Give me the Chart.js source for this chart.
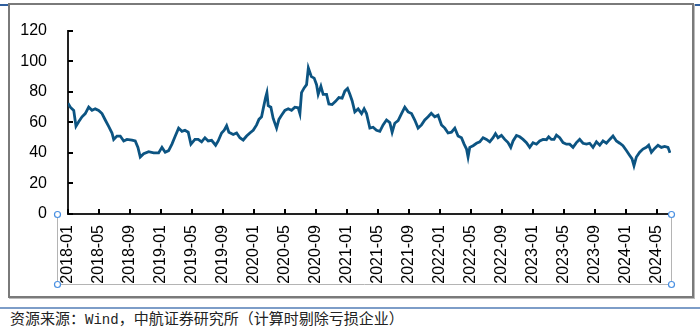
<!DOCTYPE html>
<html>
<head>
<meta charset="utf-8">
<script src="https://cdn.jsdelivr.net/npm/chart.js@4.4.0/dist/chart.umd.min.js"></script>
<style>
  html, body { margin: 0; padding: 0; background: #fff; }
  body { width: 700px; height: 332px; position: relative; overflow: hidden; }
  .topRule { position: absolute; left: 0; top: 4px; width: 700px; height: 2px; background: #2f5f9e; }
  .frame { position: absolute; left: 8px; top: 3px; width: 682px; height: 291px; border: 2px solid #7a7a7a; background: #fff; box-shadow: 1px 1px 0 #bbb; }
  .wrap { position: absolute; left: 0; top: 0; width: 700px; height: 300px; }
  .bottomRule { position: absolute; left: 0; top: 307px; width: 700px; height: 2px; background: #7d9dc8; }
  .source { position: absolute; left: 10px; top: 309px; font: 15px "Noto Sans CJK SC", sans-serif; line-height: 18px; color: #222; white-space: nowrap; }
  .source .mono { font-family: "Liberation Mono", monospace; font-size: 14px; }
</style>
</head>
<body>
<div class="topRule"></div>
<div class="frame"></div>
<div class="wrap"><canvas id="peChart" width="700" height="300"></canvas></div>
<div class="bottomRule"></div>
<div class="source">资源来源：<span class="mono">Wind</span>，中航证券研究所（计算时剔除亏损企业）</div>

<script>
// months since 2018-01 (fractional)
const months = [
  0, 0.30, 0.74, 1.03, 1.38, 1.81, 2.23, 2.67, 3.10, 3.52, 3.96, 4.39, 4.81, 5.25, 5.68, 5.90,
  6.32, 6.75, 7.19, 7.61, 8.26, 8.68, 9.03, 9.33, 9.77, 10.41, 11.06, 11.70, 12.13, 12.55, 12.99,
  13.42, 13.85, 14.28, 14.71, 15.10, 15.52, 15.87, 16.39, 16.81, 17.25, 17.68, 18.10, 18.54, 19.06,
  19.39, 19.83, 20.17, 20.48, 20.77, 21.33, 21.77, 22.19, 22.62, 23.06, 23.48, 23.91, 24.35, 24.65,
  24.99, 25.20, 25.51, 25.68, 25.85, 26.19, 26.49, 26.93, 27.23, 27.57, 28.00, 28.43, 28.86, 29.29,
  29.72, 29.94, 30.15, 30.49, 30.80, 31.03, 31.42, 31.78, 32.09, 32.30, 32.65, 32.94, 33.38, 33.68,
  34.10, 34.54, 34.97, 35.39, 35.74, 36.09, 36.39, 36.68, 37.03, 37.46, 37.90, 38.23, 38.54, 38.97,
  39.39, 39.83, 40.26, 40.68, 41.12, 41.55, 41.85, 42.19, 42.62, 43.06, 43.48, 43.91, 44.35, 44.77,
  45.20, 45.64, 46.06, 46.49, 46.90, 47.35, 47.78, 48.22, 48.65, 49.07, 49.51, 49.94, 50.36, 50.80,
  51.14, 51.45, 51.65, 51.87, 52.30, 52.74, 53.16, 53.59, 54.03, 54.45, 54.88, 55.19, 55.52, 55.96,
  56.39, 56.81, 57.16, 57.46, 57.90, 58.32, 58.75, 59.19, 59.61, 60.04, 60.48, 60.90, 61.33, 61.77,
  62.06, 62.41, 62.75, 63.06, 63.48, 63.91, 64.35, 64.77, 65.20, 65.64, 66.06, 66.49, 66.93, 67.35,
  67.78, 68.22, 68.65, 69.07, 69.51, 69.94, 70.36, 70.80, 71.23, 71.65, 72.09, 72.52, 72.81, 73.07,
  73.38, 73.81, 74.23, 74.67, 74.97, 75.32, 75.74, 76.17, 76.61, 77.03, 77.46, 77.72
];

// PE values
const pe = [
  72.5, 69.9, 67.8, 57.5, 60.4, 63.6, 65.7, 69.9, 67.8, 68.8, 67.8, 65.7, 61.5, 57.3, 53.0, 48.8,
  51.0, 51.0, 47.8, 48.8, 48.4, 47.8, 43.6, 37.3, 39.4, 40.8, 40.0, 40.0, 43.6, 40.4, 41.5,
  45.7, 51.0, 56.2, 54.1, 54.8, 53.5, 45.7, 48.8, 48.8, 47.2, 49.9, 47.8, 48.2, 45.0,
  47.8, 53.0, 54.8, 57.7, 53.5, 52.0, 53.0, 49.9, 48.4, 51.0, 53.0, 54.8, 58.3, 61.9,
  63.6, 68.8, 76.2, 79.4, 70.9, 69.9, 62.5, 56.2, 61.9, 64.6, 67.8, 68.8, 67.8, 69.9,
  69.5, 65.7, 79.4, 82.5, 84.6, 95.6, 89.9, 88.9, 84.6, 78.3, 83.6, 78.3, 78.3, 72.0,
  71.6, 73.7, 76.2, 75.8, 80.4, 82.1, 78.3, 74.1, 66.8, 68.8, 65.7, 68.8, 65.7, 56.2,
  56.8, 54.8, 54.1, 58.3, 61.5, 59.8, 53.5, 59.4, 61.1, 65.7, 69.9, 66.8, 65.7, 61.5,
  56.2, 58.3, 61.5, 63.6, 65.9, 63.6, 64.6, 58.3, 56.2, 53.0, 53.5, 56.2, 51.0, 49.9,
  45.7, 42.5, 37.3, 43.6, 44.7, 46.3, 47.2, 49.9, 48.8, 47.2, 49.9, 52.6, 49.9, 51.4,
  48.8, 46.7, 43.6, 47.8, 51.4, 50.5, 48.8, 46.7, 43.6, 46.7, 45.7, 47.8, 48.8, 48.6,
  50.5, 48.8, 48.8, 51.6, 49.9, 46.7, 45.7, 45.7, 43.6, 46.7, 48.8, 46.3, 45.7, 46.3,
  43.6, 47.2, 45.0, 47.8, 46.3, 48.8, 51.0, 47.8, 46.3, 44.7, 41.5, 38.3, 36.2, 31.6,
  37.3, 40.4, 42.5, 43.6, 45.0, 40.4, 42.9, 45.0, 43.6, 44.2, 43.6, 40.0
];

const tickLabels = [
  '2018-01', '2018-05', '2018-09', '2019-01', '2019-05', '2019-09', '2020-01', '2020-05',
  '2020-09', '2021-01', '2021-05', '2021-09', '2022-01', '2022-05', '2022-09', '2023-01',
  '2023-05', '2023-09', '2024-01', '2024-05'
];
const yTicks = [0, 20, 40, 60, 80, 100, 120];
const lastMonth = 77.85;

function labelToMonth(s) {
  const [y, m] = s.split('-').map(Number);
  return (y - 2018) * 12 + (m - 1);
}

const points = months.map((m, i) => ({ x: m, y: pe[i] }));

// inward tick marks + the selected-axis box
const axisDecor = {
  id: 'axisDecor',
  afterDraw(chart) {
    const ctx = chart.ctx;
    const xs = chart.scales.x, ys = chart.scales.y;
    ctx.save();
    ctx.strokeStyle = '#000';
    ctx.lineWidth = 2;
    ctx.beginPath();
    yTicks.forEach(v => {
      const py = Math.round(ys.getPixelForValue(v));
      ctx.moveTo(xs.left, py);
      ctx.lineTo(xs.left + 5, py);
    });
    tickLabels.forEach(l => {
      const px = Math.round(xs.getPixelForValue(labelToMonth(l)));
      ctx.moveTo(px, ys.bottom);
      ctx.lineTo(px, ys.bottom - 5);
    });
    ctx.stroke();

    // selection box around the category axis
    const bx0 = xs.left - 11, bx1 = xs.right, by0 = xs.top, by1 = xs.top + 70;
    ctx.strokeStyle = '#b4b4b4';
    ctx.lineWidth = 1;
    ctx.beginPath();
    ctx.moveTo(bx0 + 0.5, by0);
    ctx.lineTo(bx0 + 0.5, by1 + 0.5);
    ctx.lineTo(bx1 + 0.5, by1 + 0.5);
    ctx.lineTo(bx1 + 0.5, by0);
    ctx.stroke();
    ctx.strokeStyle = '#4a90e2';
    ctx.fillStyle = '#fff';
    ctx.lineWidth = 1.2;
    [[bx0, by0], [bx0, by1], [bx1, by0], [bx1, by1]].forEach(([cx, cy]) => {
      ctx.beginPath();
      ctx.arc(cx + 0.5, cy + 0.5, 3, 0, Math.PI * 2);
      ctx.fill();
      ctx.stroke();
    });
    ctx.restore();
  }
};

const ctx = document.getElementById('peChart').getContext('2d');
const peChart = new Chart(ctx, {
  type: 'line',
  data: {
    datasets: [{
      data: points,
      borderColor: '#0c5482',
      borderWidth: 2.8,
      pointRadius: 0,
      tension: 0,
      fill: false
    }]
  },
  options: {
    responsive: false,
    animation: false,
    layout: { padding: { left: 0, top: 24, right: 29, bottom: 0 } },
    plugins: { legend: { display: false }, tooltip: { enabled: false } },
    scales: {
      x: {
        type: 'linear',
        min: 0,
        max: lastMonth,
        grid: { display: false, drawTicks: false },
        border: { display: true, color: '#222', width: 2 },
        afterBuildTicks(scale) {
          scale.ticks = tickLabels.map(l => ({ value: labelToMonth(l) }));
        },
        afterFit(scale) { scale.height = 86; },
        ticks: {
          autoSkip: false,
          minRotation: 90,
          maxRotation: 90,
          padding: 11,
          color: '#000',
          font: { family: 'Liberation Sans', size: 16 },
          callback(v) {
            const y = 2018 + Math.floor(v / 12);
            const m = (v % 12) + 1;
            return y + '-' + String(m).padStart(2, '0');
          }
        }
      },
      y: {
        min: 0,
        max: 120,
        grid: { display: false, drawTicks: false },
        border: { display: true, color: '#222', width: 2 },
        afterBuildTicks(scale) {
          scale.ticks = yTicks.map(v => ({ value: v }));
        },
        afterFit(scale) { scale.width = 68; },
        ticks: {
          padding: 21,
          color: '#000',
          font: { family: 'Liberation Sans', size: 16 }
        }
      }
    }
  },
  plugins: [axisDecor]
});
</script>
</body>
</html>
